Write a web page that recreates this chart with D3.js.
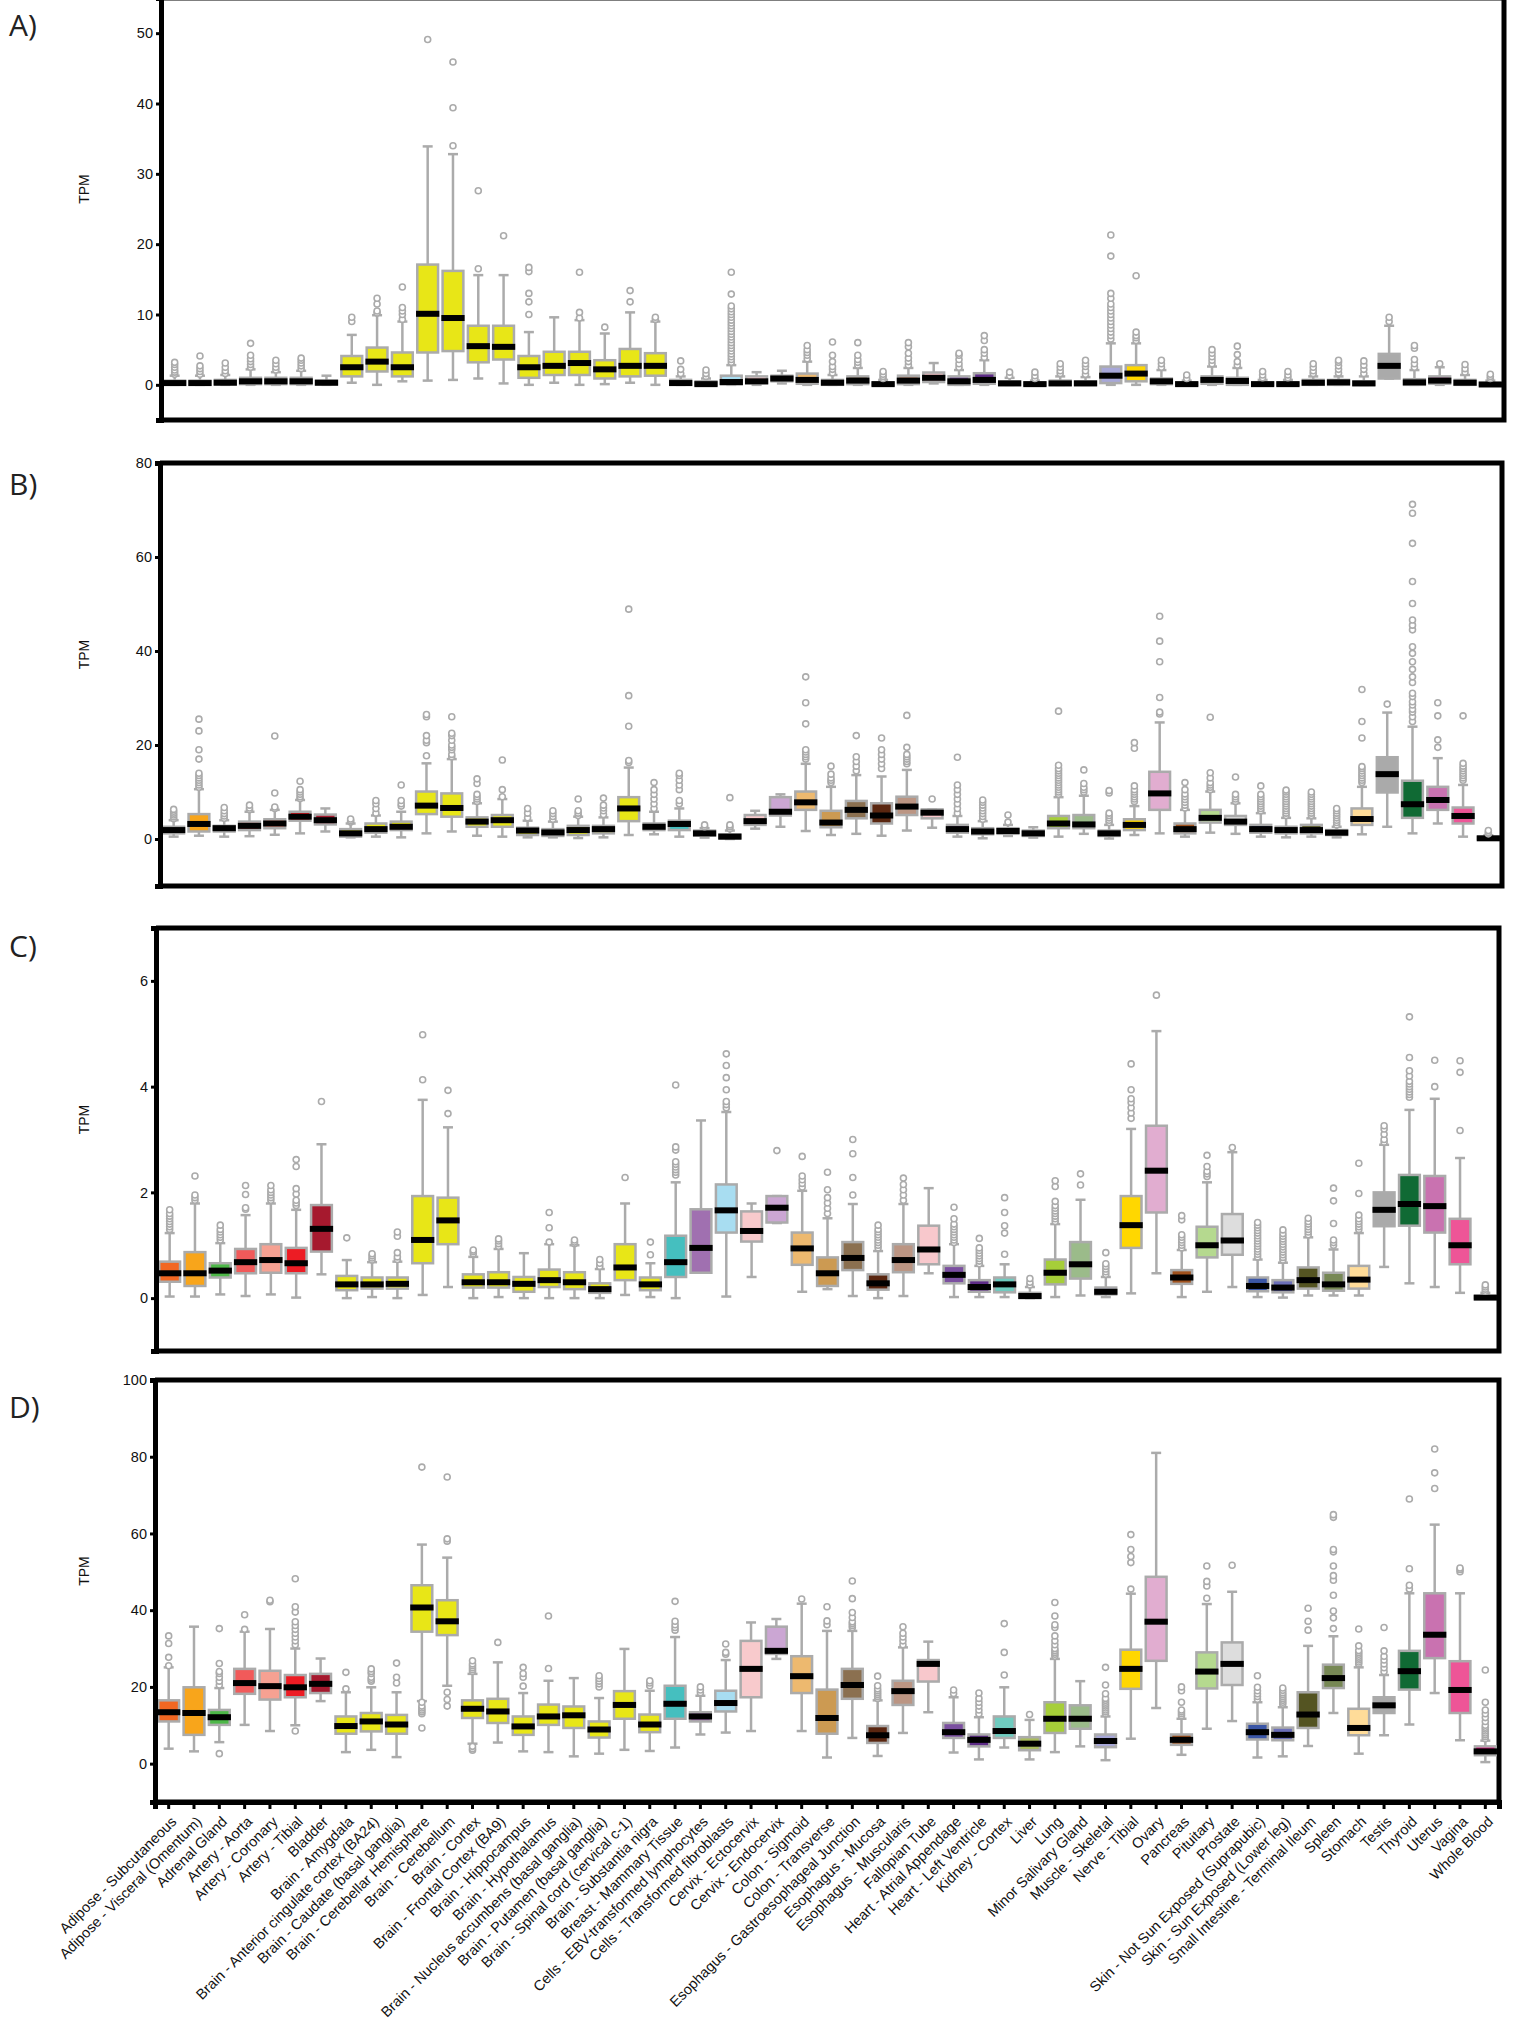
<!DOCTYPE html>
<html>
<head>
<meta charset="utf-8">
<script src="https://cdn.jsdelivr.net/npm/d3@7"></script>
<style>
  body { margin: 0; background: #fff; }
  .tick text { font-family: "Liberation Sans", Arial, sans-serif; }
</style>
</head>
<body>
<svg id="chart" width="1519" height="2025"></svg>
<script>
// ---- data ----
const tissues = [
  "Adipose - Subcutaneous", "Adipose - Visceral (Omentum)", "Adrenal Gland", "Artery - Aorta",
  "Artery - Coronary", "Artery - Tibial", "Bladder", "Brain - Amygdala",
  "Brain - Anterior cingulate cortex (BA24)", "Brain - Caudate (basal ganglia)",
  "Brain - Cerebellar Hemisphere", "Brain - Cerebellum", "Brain - Cortex",
  "Brain - Frontal Cortex (BA9)", "Brain - Hippocampus", "Brain - Hypothalamus",
  "Brain - Nucleus accumbens (basal ganglia)", "Brain - Putamen (basal ganglia)",
  "Brain - Spinal cord (cervical c-1)", "Brain - Substantia nigra", "Breast - Mammary Tissue",
  "Cells - EBV-transformed lymphocytes", "Cells - Transformed fibroblasts", "Cervix - Ectocervix",
  "Cervix - Endocervix", "Colon - Sigmoid", "Colon - Transverse",
  "Esophagus - Gastroesophageal Junction", "Esophagus - Mucosa", "Esophagus - Muscularis",
  "Fallopian Tube", "Heart - Atrial Appendage", "Heart - Left Ventricle", "Kidney - Cortex",
  "Liver", "Lung", "Minor Salivary Gland", "Muscle - Skeletal", "Nerve - Tibial", "Ovary",
  "Pancreas", "Pituitary", "Prostate", "Skin - Not Sun Exposed (Suprapubic)",
  "Skin - Sun Exposed (Lower leg)", "Small Intestine - Terminal Ileum", "Spleen", "Stomach",
  "Testis", "Thyroid", "Uterus", "Vagina", "Whole Blood"
];

const brainYellow = "#E8E617";
const tissueColors = [
  "#F26722", "#F8A51B", "#4DB848", "#F15A5A", "#F6A192", "#ED1C24", "#A6192E",
  brainYellow, brainYellow, brainYellow, brainYellow, brainYellow, brainYellow, brainYellow,
  brainYellow, brainYellow, brainYellow, brainYellow, brainYellow, brainYellow,
  "#45BFBF", "#A070B0", "#A8DDF1", "#F8CACC", "#CBA6D3", "#EDB96F", "#CC9A52", "#8B7050",
  "#5A2610", "#BB9583", "#F8C8CC", "#7B4FA0", "#5E2C87", "#6FCBBF", "#AABC5E", "#A6CE39",
  "#9BBB8A", "#A7A7D8", "#FFD700", "#E1ADD0", "#A0521E", "#B5D98F", "#DDDDDD", "#3B56A6",
  "#6C6FB8", "#545422", "#778855", "#FFDC99", "#AAAAAA", "#106A34", "#C972B0", "#EE5597",
  "#EE1C8C"
];

// box stats per tissue: [whisker low, q1, median, q3, whisker high]
const statsA = [
  [0,0.05,0.25,0.6,1.3],[0,0.05,0.25,0.6,1.3],[0,0.1,0.3,0.7,1.4],[0,0.1,0.5,1.0,2.2],
  [0,0.1,0.5,1.0,1.8],[0,0.1,0.5,1.0,2.0],[0,0.05,0.3,0.6,1.3],[0.3,1.2,2.5,4.1,7.1],
  [0,1.9,3.3,5.3,9.9],[0.5,1.2,2.5,4.6,9.0],[0.6,4.6,10.1,17.1,33.9],[0.7,4.8,9.5,16.2,32.8],
  [0.9,3.2,5.5,8.4,15.6],[0.2,3.6,5.4,8.4,15.6],[0,1.0,2.5,4.1,7.5],[0.3,1.4,2.7,4.7,9.6],
  [0,1.4,3.1,4.7,9.2],[0.1,0.9,2.2,3.5,7.3],[0.3,1.2,2.7,5.1,10.3],[0,1.3,2.7,4.5,9.0],
  [0,0.05,0.25,0.7,1.2],[0,0,0.1,0.5,0.9],[0,0.05,0.4,1.3,2.8],[0,0.2,0.5,1.2,1.8],
  [0.2,0.5,0.9,1.3,2.0],[0,0.15,0.7,1.6,3.3],[0,0,0.3,0.7,1.4],[0,0.1,0.6,1.2,2.4],
  [0,0,0.1,0.3,0.7],[0,0.1,0.6,1.3,2.4],[0.2,0.4,1.0,1.75,3.1],[0,0,0.5,1.2,2.1],
  [0,0.15,0.7,1.65,3.5],[0,0,0.2,0.5,1.0],[0,0,0.1,0.3,0.6],[0,0,0.2,0.6,1.2],
  [0,0,0.2,0.5,1.1],[0,0.25,1.3,2.6,5.9],[0,0.5,1.6,2.8,5.9],[0,0.1,0.5,0.9,2.1],
  [0,0,0.1,0.3,0.6],[0,0.15,0.7,1.2,2.6],[0,0,0.55,1.0,2.4],[0,0,0.1,0.3,0.7],
  [0,0,0.1,0.3,0.7],[0,0,0.3,0.7,1.2],[0,0,0.35,0.7,1.2],[0,0,0.2,0.5,1.2],
  [0.9,0.9,2.7,4.4,8.4],[0,0,0.35,0.8,2.1],[0,0.15,0.6,1.2,2.5],[0,0,0.3,0.7,1.4],
  [0,0,0.05,0.25,0.6]
];
const outliersA = [
  [1.5,1.8,2.1,2.5,2.9,3.2],[1.5,1.9,2.3,2.7,4.1],[1.6,2.0,2.5,3.1],[2.5,2.9,3.3,3.7,4.2,5.9],
  [2.1,2.5,3.0,3.5],[2.3,2.7,3.1,3.5,3.8],[],[9.0,9.6],[10.2,10.5,11.5,12.3],[9.3,10,10.5,11,13.9],
  [49.1],[34,39.4,45.9],[16.5,27.6],[21.2],[10,11.8,13,16.1,16.7],[],[9.5,10.3,16],[8.2],
  [11.8,13.4],[9.3,9.6],[1.6,2.2,3.4],[1.2,1.6,2.1],
  [3.2,3.6,4,4.4,4.8,5.2,5.6,6,6.4,6.8,7.2,7.6,8,8.4,8.8,9.2,9.6,10,10.4,10.8,11.2,12.9,16],
  [],[],[3.7,4.2,4.6,5.0,5.6],[1.7,2.2,2.6,3.3,4.2,6.1],[2.8,3.2,3.6,4.2,6.0],[0.9,1.2,1.5,1.9],
  [2.8,3.3,3.8,4.5,5.4,6.0],[],[2.5,3.0,3.6,4.2,4.5],[3.9,4.5,5.0,6.3,7.0],[1.3,1.8],
  [0.9,1.3,1.8],[1.6,2.0,2.5,3.0],[1.5,2.0,2.6,3.0,3.5],
  [6.5,7,7.5,8,8.5,9,9.5,10,10.5,11,11.5,12.3,13,18.3,21.3],[6.3,6.7,7.0,7.5,15.5],
  [2.5,3.0,3.5],[0.9,1.4],[3.0,3.5,4.0,4.5,5.0],[2.8,3.3,4.3,5.5],[1.0,1.4,1.9],[1.0,1.4,1.9],
  [1.6,2.0,2.5,3.0],[1.7,2.2,2.7,3.2,3.5],[1.6,2.2,2.8,3.4],[9.0,9.6],[2.5,3.0,3.6,5.2,5.6],
  [3.0],[1.8,2.3,2.9],[0.9,1.2,1.5]
];

const statsB = [
  [0.5,1.2,1.9,2.6,4.0],[0.7,1.6,3.2,5.3,10.6],[0.5,1.6,2.3,2.8,4.0],[0.6,1.9,2.8,3.7,5.8],
  [0.9,2.3,3.3,4.2,6.2],[1.2,3.9,4.75,5.8,8.3],[1.6,3.1,4.0,5.2,6.5],[0.35,0.5,1.2,2.1,3.3],
  [0.5,1.35,2.1,3.3,5.0],[0.35,1.9,2.6,3.7,5.8],[1.2,5.3,7.1,10.1,16.1],[1.6,4.75,6.6,9.7,17],
  [0.7,2.6,3.7,4.6,7.6],[0.5,2.6,4.0,5.1,8.5],[0.35,0.85,1.8,2.4,3.9],[0.35,0.65,1.4,2.1,3.7],
  [0.2,0.85,1.9,2.8,4.75],[0.35,1.2,2.1,2.8,4.6],[0.85,3.8,6.5,8.9,15.2],[1.0,1.9,2.6,3.3,5.8],
  [0.5,1.9,3.2,3.9,6.5],[0.3,0.7,1.2,1.8,2.3],[0,0.15,0.5,1.0,1.8],[2.2,3.0,3.8,5.1,6.0],
  [2.6,5.0,5.8,8.9,9.5],[1.7,6.2,7.8,10.1,16],[0.85,2.5,3.5,6.0,11.1],[1.1,4.4,6.2,8.1,13.6],
  [0.7,3.3,5.0,7.6,13.3],[1.8,5.1,6.9,9.0,14.7],[2.4,4.4,5.6,6.3,6.3],[0.5,1.35,2.1,3.0,4.9],
  [0.15,1.0,1.6,2.3,3.8],[0.65,1.1,1.7,2.3,3.0],[0.3,0.65,1.2,1.8,2.5],[0.5,2.3,3.3,4.9,8.9],
  [1.1,2.3,3.1,5.1,9.2],[0.1,0.65,1.2,1.8,3.0],[0.85,1.9,3.0,4.2,7.0],[1.2,6.2,9.7,14.3,24.8],
  [0.5,1.2,2.1,3.3,6.2],[1.35,3.5,4.5,6.2,10.1],[1.1,3.0,3.7,4.9,7.6],[0.5,1.35,2.1,3.0,5.5],
  [0.35,1.2,1.9,2.6,4.5],[0.5,1.2,1.9,3.0,4.4],[0.35,0.85,1.35,1.9,2.6],[1.0,3.0,4.25,6.5,11.1],
  [2.6,9.9,13.8,17.4,26.9],[1.2,4.5,7.4,12.4,23.9],[3.3,6.2,8.3,11.1,17.2],[0.5,3.3,4.9,6.7,11.5],
  [0,0,0.15,0.4,0.8]
];
const outliersB = [
  [4.3,4.7,5.1,5.5,5.9,6.3],[11,11.5,12,12.5,13,13.5,14,17,19,23,25.5],[4.4,4.9,5.4,6.0,6.7],
  [6.2,6.6,7.2],[6.5,6.8,9.8,21.9],[8.6,9.0,9.5,10.0,10.5,12.3],[],[3.6,3.9,4.25],
  [5.5,6.5,7.5,8.2],[7.0,7.5,8.2,11.5],[17.7,20.5,21,22,26,26.5],
  [17.5,18,19,19.5,20,21,22,22.5,26],[8,8.5,9,9.5,11.8,12.8],[9,10.5,16.8],[4.5,5.5,6.5],
  [4.2,4.8,5.4,6],[5,5.5,6,8.5],[5.2,6.0,6.6,7.2,8.7],[16.3,16.7,24,30.5,48.9],
  [6.5,7.5,8.5,9.5,10.5,12],[7.5,8.2,10.5,11.5,12.5,13.5,14],[2.6,3.0],[2.2,2.6,3.0,8.8],[],
  [],[17,17.5,18,18.5,19,24.5,29,34.5],[12,12.5,13,13.8,15.5],[14.5,15.5,16.5,17.5,22],
  [15,16,17,18,19,21.5],[16,16.5,17,17.5,18,19.5,26.3],[8.5],
  [5.5,6.5,7.5,8.5,9.5,10.5,11.5,17.4],[4.2,4.8,5.4,6,6.6,7.2,7.8,8.3],[3.6,5.1],[],
  [9.5,10,10.5,11,11.5,12,12.5,13,13.5,14,14.5,15,15.7,27.2],[10,10.5,11,11.8,14.7],
  [3.5,4,4.5,5,5.5,9.8,10.3],[8,8.5,9,9.5,10,10.5,11.3,19.3,20.5],[26.6,27,30.1,37.7,42.1,47.4],
  [6.6,7.2,7.8,8.4,9,9.6,10.5,12],[10.5,11,11.5,12,13,14.1,25.9],[8,8.5,9,9.5,13.2],
  [6,6.5,7,7.5,8,8.5,9,9.5,11.3],[5,5.5,6,6.5,7,7.5,8,8.5,9,9.5,10,10.4],
  [5,5.5,6,6.5,7,7.5,8,8.5,9,9.5,10],[3,3.5,4,4.5,5,5.5,6,6.5],
  [12,12.5,13,13.5,14,14.5,15,15.4,21.5,25,31.8],[28.7],
  [25,26,27,27.6,28.5,29.2,30.3,31,33.3,34.5,36.1,37.7,39.5,40.9,44.5,45.5,46.6,50.1,54.8,62.9,69.3,71.2],
  [19.5,21.1,26.2,29],[12.5,13,13.5,14,14.5,15,15.5,16.1,26.2],[1.1,1.4,1.8]
];

const statsC = [
  [0.03,0.31,0.47,0.69,1.23],[0.03,0.23,0.47,0.87,1.79],[0.07,0.39,0.52,0.66,1.04],
  [0.04,0.47,0.68,0.93,1.57],[0.07,0.48,0.72,1.02,1.79],[0.01,0.47,0.66,0.95,1.67],
  [0.45,0.88,1.31,1.76,2.91],[0,0.15,0.26,0.42,0.72],[0.02,0.18,0.26,0.39,0.68],
  [0,0.18,0.27,0.39,0.69],[0.06,0.66,1.10,1.93,3.75],[0.21,1.02,1.47,1.90,3.23],
  [0,0.20,0.30,0.45,0.78],[0.02,0.20,0.30,0.49,0.93],[0,0.12,0.27,0.40,0.85],
  [0,0.21,0.34,0.54,1.02],[0,0.17,0.30,0.49,1.0],[0,0.10,0.17,0.28,0.55],
  [0.06,0.34,0.58,1.02,1.79],[0.02,0.15,0.26,0.39,0.66],[0,0.40,0.68,1.18,2.19],
  [0.48,0.48,0.95,1.68,3.36],[0.03,1.24,1.66,2.15,3.52],[0.40,1.07,1.27,1.64,1.79],
  [1.42,1.43,1.71,1.93,1.93],[0.12,0.63,0.94,1.24,2.03],[0.17,0.23,0.47,0.77,1.51],
  [0.04,0.53,0.76,1.06,1.78],[0,0.16,0.28,0.45,0.89],[0.04,0.49,0.72,1.02,1.78],
  [0.47,0.64,0.92,1.37,2.08],[0.02,0.28,0.44,0.61,1.02],[0.02,0.12,0.21,0.34,0.61],
  [0.02,0.11,0.26,0.39,0.64],[0,0,0.04,0.10,0.21],[0.02,0.26,0.48,0.73,1.40],
  [0.05,0.37,0.64,1.06,1.86],[0.02,0.07,0.12,0.20,0.40],[0.09,0.95,1.38,1.93,3.20],
  [0.47,1.62,2.41,3.26,5.05],[0.02,0.27,0.39,0.53,0.91],[0.12,0.77,1.0,1.35,2.19],
  [0.21,0.82,1.09,1.59,2.76],[0.02,0.13,0.23,0.39,0.73],[0.01,0.11,0.20,0.34,0.67],
  [0.05,0.18,0.34,0.58,1.15],[0.05,0.14,0.26,0.48,0.92],[0.05,0.18,0.35,0.61,1.23],
  [0.59,1.36,1.67,2.0,2.90],[0.28,1.37,1.78,2.33,3.56],[0.21,1.24,1.74,2.31,3.77],
  [0.10,0.64,1.0,1.50,2.65],[0,0,0.01,0.04,0.1]
];
const outliersC = [
  [1.3,1.35,1.4,1.45,1.5,1.55,1.6,1.67],[1.85,1.9,1.95,2.31],[1.1,1.15,1.2,1.25,1.3,1.38],
  [1.68,1.71,1.96,2.13],[1.85,1.9,1.95,2.0,2.05,2.13],[1.75,1.8,1.85,1.97,2.07,2.49,2.62],
  [3.72],[1.14],[0.72,0.76,0.8,0.84],[0.73,0.78,0.86,1.17,1.25],[4.13,4.98],[3.49,3.93],
  [0.84,0.88,0.91],[0.98,1.03,1.08,1.12],[],[1.06,1.33,1.62],[1.03,1.06,1.1],[0.6,0.66,0.73],
  [2.28],[0.82,1.06],[2.33,2.38,2.43,2.48,2.53,2.58,2.8,2.86,4.03],[],
  [3.6,3.66,3.72,3.94,4.17,4.4,4.62],[],[2.79],[2.1,2.17,2.24,2.31,2.68],
  [1.6,1.7,1.8,1.9,2.05,2.38],[1.95,2.28,2.73,3.0],[0.95,1.0,1.05,1.1,1.15,1.2,1.25,1.3,1.38],
  [1.85,1.95,2.05,2.15,2.27],[],[1.05,1.1,1.15,1.2,1.25,1.3,1.35,1.4,1.5,1.72],
  [0.65,0.7,0.75,0.8,0.85,0.9,0.95,1.13],[0.83,1.23,1.37,1.62,1.9],[0.25,0.3,0.37],
  [1.45,1.5,1.55,1.6,1.65,1.7,1.75,1.83,2.11,2.22],[2.14,2.35],[0.45,0.5,0.55,0.6,0.65,0.86],
  [3.4,3.5,3.6,3.7,3.77,3.94,4.43],[5.73],[0.95,1.0,1.05,1.1,1.15,1.2,1.48,1.56],
  [2.3,2.35,2.4,2.49,2.7],[2.85],[0.78,0.83,0.88,0.93,0.98,1.03,1.08,1.13,1.18,1.23,1.28,1.33,1.38,1.43],
  [0.72,0.77,0.82,0.87,0.92,0.97,1.02,1.07,1.12,1.17,1.22,1.29],[1.2,1.25,1.3,1.35,1.4,1.45,1.51],
  [1.0,1.05,1.1,1.41,1.84,2.08],[1.3,1.35,1.4,1.45,1.5,1.57,1.98,2.55],[2.95,3.0,3.1,3.2,3.26],
  [3.8,3.85,3.9,3.95,4.0,4.05,4.1,4.2,4.3,4.55,5.32],[4.0,4.5],[3.17,4.27,4.49],
  [0.13,0.17,0.21,0.25]
];

const statsD = [
  [3.9,11.0,13.4,16.5,25.1],[3.2,7.5,13.2,19.9,35.7],[5.6,10.1,12.1,14.0,19.7],
  [10.1,18.2,21.0,24.7,34.4],[8.5,16.7,20.2,24.2,35.1],[10.0,17.3,19.9,23.1,30.0],
  [16.3,18.4,20.8,23.4,27.4],[3.0,7.8,9.8,12.3,18.6],[3.6,8.4,11.0,13.2,19.9],
  [1.7,7.8,10.2,12.7,18.6],[16.3,34.4,40.7,46.5,57.1],[20.3,33.5,37.1,42.6,53.7],
  [5.2,11.9,14.3,16.5,23.4],[5.5,10.6,13.6,16.9,26.4],[3.2,7.5,9.7,12.3,18.4],
  [3.0,10.1,12.3,15.4,21.6],[1.9,9.3,12.6,14.9,22.3],[2.6,6.8,8.9,11.0,17.1],
  [3.6,11.7,15.3,18.9,29.9],[3.3,8.2,10.2,12.8,19.0],[4.2,11.7,15.6,20.3,33.0],
  [7.6,11.0,12.3,13.4,17.7],[8.1,13.6,15.8,19.0,27.0],[8.5,17.3,24.7,32.0,36.8],
  [27.3,28.6,29.4,35.7,37.7],[8.5,18.4,22.8,28.0,41.7],[1.6,7.8,11.9,19.3,34.6],
  [6.7,16.9,20.5,24.7,34.6],[2.0,5.4,7.4,9.8,16.5],[8.0,15.3,18.9,21.6,30.3],
  [13.4,21.4,26.0,27.0,31.8],[2.9,6.7,8.2,10.6,17.3],[1.1,4.5,6.2,7.6,12.1],
  [4.2,6.7,8.5,12.3,19.9],[1.1,3.5,5.2,6.9,11.4],[3.0,8.0,11.7,16.0,27.3],
  [4.5,9.1,11.7,15.2,21.5],[0.9,4.3,5.9,7.6,12.3],[6.5,19.5,24.7,29.7,44.3],
  [14.5,26.8,37.0,48.7,81.0],[2.3,4.9,6.2,7.6,11.7],[9.1,19.6,24.0,29.0,41.6],
  [11.1,20.5,26.0,31.6,44.8],[1.6,6.3,8.2,10.4,16.0],[1.9,6.1,7.5,9.4,14.7],
  [4.6,9.3,12.8,18.6,30.7],[13.2,19.7,22.3,25.8,33.2],[2.6,7.4,9.3,14.3,25.1],
  [7.4,13.2,15.2,17.3,23.1],[10.2,19.3,24.1,29.4,44.4],[18.4,27.5,33.6,44.4,62.3],
  [6.1,13.2,19.2,26.7,44.4],[0.4,2.2,3.2,4.5,6.0]
];
const outliersD = [
  [25.5,27.7,31.3,33.3],[],[2.6,20.5,21.5,22.5,23.5,24,26.1,35.2],[35,38.8],[42.2,42.6],
  [8.5,31,32,33,34,35,36,37,39.5,40.9,48.2],[],[19.5,23.8],[21.5,22,22.5,23.5,24,24.7],
  [21,22.5,26.2],[9.3,13,13.5,14,14.5,15,16,77.3],[15,16.7,18.6,58,58.6,74.7],
  [3.5,3.9,4.5,24,24.5,25,25.5,26,26.8],[31.6],[20.2,22.5,23.5,25.1],[24.8,38.5],[],
  [20,20.8,21.5,22.2,22.9],[],[20.3,21,21.6],[34.8,35.5,36.2,37.1,42.3],[18.5,19.2,20.0],
  [28.5,29,31.2],[],[],[42.9],[36.2,37.2,40.9],[35.5,36,36.5,37,38.1,39.4,43,47.6],
  [17,17.5,18,18.5,19,19.5,20.3,22.8],[31,32,33,34,35.7],[],[18.3,19.2],[13,14,15,16,17,18.4],
  [23.1,29,36.5],[12.8],[28,28.5,29,29.5,30,31,32,33.3,35.5,36.2,38.5,42],[],
  [13,13.5,14,14.5,15,15.5,16,16.5,17,18.2,20.5,25.1],[45.5,52.4,54,55.8,59.7],[],
  [12.5,13,13.5,14,16,19,20],[43.1,46.3,47.5,51.5],[51.7],[16.8,17.5,18.2,19,19.9,22.9],
  [15.5,16,16.5,17,17.5,18,18.5,19.1,19.7],[34.8,37.1,40.5],
  [35.2,38,39.8,43.9,47.8,49,51.5,55.2,55.8,64.2,64.9],[26,26.5,27,27.5,28,28.5,29,29.5,30.7,35.1],
  [24,25,26,27,28,29.4,35.5],[45.5,46.5,50.8,69],[71.7,75.8,82],[50,50.6,51],
  [6.5,7,7.5,8,8.5,9,9.5,10,11,12,13,14,16,24.4]
];

const ticksA = [0, 10, 20, 30, 40, 50];
const ticksB = [0, 20, 40, 60, 80];
const ticksC = [0, 2, 4, 6];
const ticksD = [0, 20, 40, 60, 80, 100];

// ---- layout ----
const panels = [
  { label: "A)", stats: statsA, outliers: outliersA, ticks: ticksA, domain: [-5, 55],
    x0: 161, x1: 1504, top: -2, bottom: 420, labelY: 36 },
  { label: "B)", stats: statsB, outliers: outliersB, ticks: ticksB, domain: [-10, 80],
    x0: 160, x1: 1502, top: 463, bottom: 886, labelY: 495 },
  { label: "C)", stats: statsC, outliers: outliersC, ticks: ticksC, domain: [-1, 7],
    x0: 156, x1: 1499, top: 928, bottom: 1351, labelY: 957 },
  { label: "D)", stats: statsD, outliers: outliersD, ticks: ticksD, domain: [-10, 100],
    x0: 155, x1: 1499, top: 1380, bottom: 1802, labelY: 1418, xLabels: true }
];

const grey = "#ABABAB";
const svg = d3.select("#chart");

panels.forEach((p) => {
  const g = svg.append("g");

  const x = d3.scaleBand().domain(tissues).range([p.x0, p.x1]).padding(0.08);
  const y = d3.scaleLinear().domain(p.domain).range([p.bottom, p.top]);
  const bw = x.bandwidth();
  const cap = 10;

  const rows = tissues.map((t, i) => ({
    tissue: t, color: tissueColors[i],
    lo: p.stats[i][0], q1: p.stats[i][1], med: p.stats[i][2], q3: p.stats[i][3], hi: p.stats[i][4],
    out: p.outliers[i]
  }));

  // frame: top, right, bottom
  g.append("path")
    .attr("d", `M${p.x0},${p.top}H${p.x1}V${p.bottom}H${p.x0}`)
    .attr("fill", "none").attr("stroke", "#000").attr("stroke-width", 5);

  const box = g.selectAll(".box").data(rows).enter().append("g")
    .attr("transform", (d) => `translate(${x(d.tissue) + bw / 2},0)`);

  // whiskers
  box.append("line").attr("x1", 0).attr("x2", 0)
    .attr("y1", (d) => y(d.hi)).attr("y2", (d) => y(d.lo))
    .attr("stroke", grey).attr("stroke-width", 2.5);
  box.append("line").attr("x1", -cap / 2).attr("x2", cap / 2)
    .attr("y1", (d) => y(d.hi)).attr("y2", (d) => y(d.hi))
    .attr("stroke", grey).attr("stroke-width", 2.5);
  box.append("line").attr("x1", -cap / 2).attr("x2", cap / 2)
    .attr("y1", (d) => y(d.lo)).attr("y2", (d) => y(d.lo))
    .attr("stroke", grey).attr("stroke-width", 2.5);

  // boxes
  box.append("rect")
    .attr("x", -bw / 2 + 1.25).attr("width", bw - 2.5)
    .attr("y", (d) => y(d.q3)).attr("height", (d) => Math.max(1, y(d.q1) - y(d.q3)))
    .attr("fill", (d) => d.color).attr("stroke", grey).attr("stroke-width", 2.5);

  // medians
  box.append("rect")
    .attr("x", -bw / 2).attr("width", bw)
    .attr("y", (d) => y(d.med) - 3).attr("height", 6)
    .attr("fill", "#000");

  // outliers
  box.selectAll("circle").data((d) => d.out).enter().append("circle")
    .attr("cx", 0).attr("cy", (v) => y(v)).attr("r", 3)
    .attr("fill", "#fff").attr("stroke", grey).attr("stroke-width", 1.6);

  // y axis
  const yAxis = g.append("g").attr("transform", `translate(${p.x0},0)`)
    .call(d3.axisLeft(y).tickValues(p.ticks).tickSize(5).tickSizeOuter(5).tickPadding(3));
  yAxis.select(".domain").attr("stroke-width", 5);
  yAxis.selectAll(".tick line").attr("stroke-width", 3);
  yAxis.selectAll(".tick text").attr("font-size", 14.5).attr("fill", "#111");

  // x axis (bottom panel only)
  if (p.xLabels) {
    const xAxis = g.append("g").attr("transform", `translate(0,${p.bottom})`)
      .call(d3.axisBottom(x).tickSize(7).tickSizeOuter(7));
    xAxis.select(".domain").attr("stroke-width", 5);
    xAxis.selectAll(".tick line").attr("stroke-width", 3);
    xAxis.selectAll(".tick text")
      .attr("x", 0).attr("y", 0).attr("dy", "0.35em")
      .attr("transform", "translate(5,17) rotate(-45)")
      .style("text-anchor", "end")
      .attr("font-size", 14.5).attr("fill", "#111");
  }

  // panel label and y title
  svg.append("text").attr("x", 9).attr("y", p.labelY)
    .attr("font-family", "'Open Sans', sans-serif").attr("font-size", 30)
    .attr("fill", "#222").text(p.label);
  svg.append("text")
    .attr("transform", `translate(89,${(p.top + p.bottom) / 2 - 20}) rotate(-90)`)
    .attr("text-anchor", "middle")
    .attr("font-family", "'Liberation Sans', Arial, sans-serif").attr("font-size", 14)
    .attr("fill", "#111").text("TPM");
});
</script>
</body>
</html>
